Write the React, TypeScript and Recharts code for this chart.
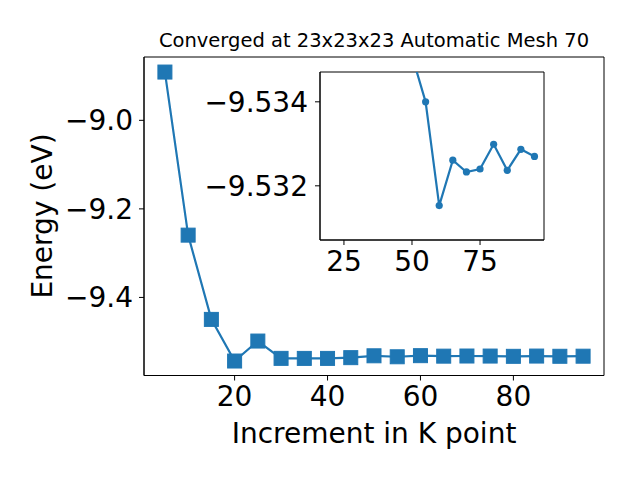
import { Line, LineChart, ReferenceArea, XAxis, YAxis } from 'recharts';

// main curve
const kpoints = [5, 10, 15, 20, 25, 30, 35, 40, 45, 50, 55, 60, 65, 70, 75, 80, 85, 90, 95];
const energies = [
  -8.891, -9.2593, -9.4496, -9.5436, -9.4985, -9.5376, -9.5377, -9.5377, -9.536, -9.5318, -9.534, -9.5315,
  -9.5326, -9.5323, -9.5324, -9.533, -9.5324, -9.5329, -9.5327,
];

// zoomed inset (y axis is inverted in the original)
const insetKpoints = [50, 55, 60, 65, 70, 75, 80, 85, 90, 95];
const insetEnergies = [-9.5351, -9.534, -9.53153, -9.53261, -9.53233, -9.5324, -9.53299, -9.53237, -9.53287, -9.5327];

const mainXTicks = [20, 40, 60, 80];
const mainYTicks = [-9.4, -9.2, -9.0];
const insetXTicks = [25, 50, 75];
const insetYTicks = [-9.534, -9.532];

const MAIN_X: [number, number] = [0.5, 99.5];
const MAIN_Y: [number, number] = [-9.5763, -8.857];
const INSET_X: [number, number] = [16.2, 98.5];
const INSET_Y: [number, number] = [-9.53471, -9.53071];

const BLUE = '#1f77b4';
const FONT = 'DejaVu Sans';
const TICK = { fontSize: 28, fill: '#000', fontFamily: FONT };

const minus = (v: number, d: number) => v.toFixed(d).replace('-', '\u2212');

const mainData = kpoints.map((k, i) => ({ k, e: energies[i] }));
const insetData = insetKpoints.map((k, i) => ({ k, e: insetEnergies[i] }));

function Square(props: any) {
  const { cx, cy, index } = props;
  if (cx == null || cy == null) return <g key={index} />;
  return <rect key={index} x={cx - 7} y={cy - 7} width={14} height={14} fill={BLUE} stroke={BLUE} strokeWidth={1} />;
}

export default function App() {
  return (
    <div style={{ position: 'fixed', left: 0, top: 0, width: 640, height: 480, background: '#fff', fontFamily: FONT }}>
      <div style={{ position: 'absolute', left: 0, top: 0 }}>
        <LineChart width={640} height={480} data={mainData} margin={{ top: 57, right: 36, bottom: 64.5, left: 64 }}>
          <XAxis
            dataKey="k"
            type="number"
            domain={MAIN_X}
            ticks={mainXTicks}
            height={40}
            tickSize={5}
            tickMargin={6}
            tick={TICK}
            stroke="#000"
            allowDataOverflow
          />
          <YAxis
            type="number"
            domain={MAIN_Y}
            ticks={mainYTicks}
            width={80}
            tickSize={5}
            tickMargin={6}
            tick={TICK}
            stroke="#000"
            tickFormatter={(v: number) => minus(v, 1)}
            allowDataOverflow
          />
          <ReferenceArea x1={MAIN_X[0]} x2={MAIN_X[1]} y1={MAIN_Y[0]} y2={MAIN_Y[1]} fill="none" stroke="#000" strokeWidth={1} />
          <Line dataKey="e" stroke={BLUE} strokeWidth={2.2} dot={Square} activeDot={false} isAnimationActive={false} />
        </LineChart>
      </div>

      <div style={{ position: 'absolute', left: 0, top: 0 }}>
        <LineChart width={640} height={480} data={insetData} margin={{ top: 72, right: 96, bottom: 210, left: 220 }}>
          <XAxis
            dataKey="k"
            type="number"
            domain={INSET_X}
            ticks={insetXTicks}
            height={30}
            tickSize={5}
            tickMargin={6}
            tick={TICK}
            stroke="#000"
            allowDataOverflow
          />
          <YAxis
            type="number"
            domain={INSET_Y}
            reversed
            ticks={insetYTicks}
            width={100}
            tickSize={5}
            tickMargin={7}
            tick={TICK}
            stroke="#000"
            tickFormatter={(v: number) => minus(v, 3)}
            allowDataOverflow
          />
          <ReferenceArea x1={INSET_X[0]} x2={INSET_X[1]} y1={INSET_Y[0]} y2={INSET_Y[1]} fill="none" stroke="#000" strokeWidth={1} />
          <Line
            dataKey="e"
            stroke={BLUE}
            strokeWidth={2.2}
            dot={{ r: 3.6, fill: BLUE, stroke: BLUE, strokeWidth: 0 }}
            activeDot={false}
            isAnimationActive={false}
          />
        </LineChart>
      </div>

      <svg width={640} height={480} style={{ position: 'absolute', left: 0, top: 0, pointerEvents: 'none' }}>
        <text x={374} y={47.3} textAnchor="middle" fontSize={19.5} fontFamily={FONT} fill="#000">
          Converged at 23x23x23 Automatic Mesh 70
        </text>
        <text x={374} y={443.3} textAnchor="middle" fontSize={28} fontFamily={FONT} fill="#000">
          Increment in K point
        </text>
        <text transform="translate(52,216) rotate(-90)" textAnchor="middle" fontSize={28} fontFamily={FONT} fill="#000">
          Energy (eV)
        </text>
      </svg>
    </div>
  );
}
